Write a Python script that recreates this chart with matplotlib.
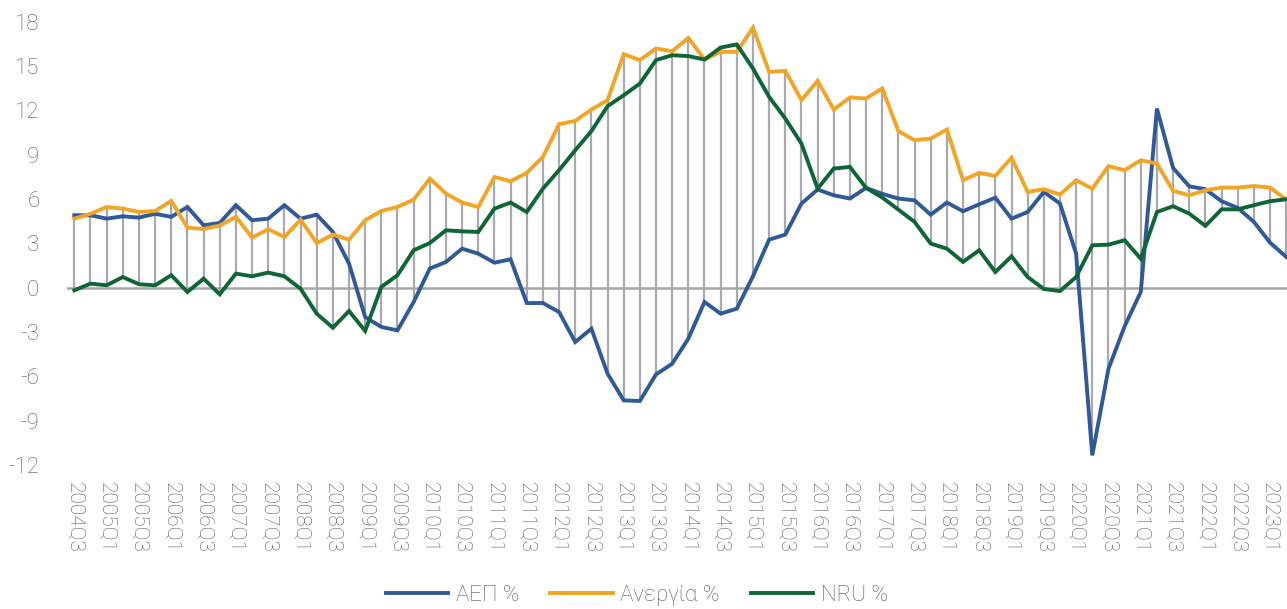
import numpy as np
import matplotlib
matplotlib.use('Agg')
import matplotlib.pyplot as plt

plt.rcParams['font.family'] = ['Roboto', 'DejaVu Sans']
plt.rcParams['axes.unicode_minus'] = False

# quarterly data 2004Q3 - 2023Q2
start_year, start_q = 2004, 3
gdp = [4.9, 4.9, 4.67, 4.83, 4.74, 5.0, 4.79, 5.46, 4.22, 4.38,
       5.58, 4.56, 4.67, 5.58, 4.67, 4.94, 3.77, 1.63, -1.99, -2.66,
       -2.89, -0.97, 1.29, 1.74, 2.64, 2.3, 1.69, 1.92, -1.04, -1.04,
       -1.65, -3.68, -2.78, -5.82, -7.63, -7.67, -5.87, -5.15, -3.45, -0.97,
       -1.76, -1.42, 0.77, 3.25, 3.59, 5.69, 6.64, 6.25, 6.03, 6.75,
       6.35, 6.03, 5.91, 4.94, 5.76, 5.17, 5.64, 6.09, 4.67, 5.12,
       6.48, 5.69, 2.3, -11.35, -5.49, -2.62, -0.29, 12.12, 8.1, 6.86,
       6.66, 5.85, 5.4, 4.45, 3.05, 2.08]
unemp = [4.67, 5.0, 5.46, 5.35, 5.12, 5.19, 5.87, 4.06, 3.97, 4.2,
         4.79, 3.39, 3.95, 3.43, 4.6, 3.02, 3.59, 3.25, 4.56, 5.19,
         5.46, 5.96, 7.38, 6.37, 5.76, 5.46, 7.49, 7.2, 7.77, 8.85,
         11.06, 11.29, 12.05, 12.69, 15.8, 15.4, 16.19, 16.0, 16.9, 15.44,
         15.96, 15.96, 17.6, 14.6, 14.67, 12.69, 14.0, 12.05, 12.87, 12.8,
         13.48, 10.59, 9.98, 10.09, 10.7, 7.27, 7.77, 7.56, 8.8, 6.48,
         6.66, 6.3, 7.27, 6.7, 8.22, 7.95, 8.62, 8.4, 6.55, 6.25,
         6.59, 6.77, 6.77, 6.88, 6.77, 5.96]
nru = [-0.18, 0.27, 0.16, 0.72, 0.23, 0.16, 0.84, -0.29, 0.61, -0.45,
       0.95, 0.77, 1.02, 0.77, -0.07, -1.76, -2.71, -1.58, -2.93, 0.05,
       0.84, 2.53, 3.02, 3.88, 3.81, 3.77, 5.35, 5.76, 5.12, 6.7,
       7.95, 9.3, 10.59, 12.28, 13.02, 13.81, 15.4, 15.73, 15.67, 15.44,
       16.25, 16.46, 14.83, 12.91, 11.44, 9.75, 6.7, 8.06, 8.17, 6.75,
       6.1, 5.28, 4.45, 2.98, 2.64, 1.74, 2.53, 1.06, 2.12, 0.72,
       -0.09, -0.23, 0.72, 2.87, 2.91, 3.21, 1.96, 5.12, 5.51, 5.01,
       4.18, 5.3, 5.3, 5.58, 5.85, 5.98]
series_names = ['ΑΕΠ %', 'Ανεργία %', 'NRU %']
colors = ['#30599A', '#F2A525', '#0E6535']

n = len(gdp)
quarters = []
y, q = start_year, start_q
for i in range(n):
    quarters.append(f'{y}Q{q}')
    q += 1
    if q > 4:
        q = 1
        y += 1

x = np.arange(n)
data = np.array([gdp, unemp, nru])

fig = plt.figure(figsize=(12.87, 6.09), dpi=100)
ax = fig.add_axes([0.0521, 0.2365, 0.9479, 0.7279])

# high-low lines
ax.vlines(x, data.min(axis=0), data.max(axis=0), color='#A9A9AE', lw=1.6, zorder=1)
ax.axhline(0, color='#A6A6A6', lw=1.8, zorder=1)

for vals, name, c in zip(data, series_names, colors):
    ax.plot(x, vals, color=c, lw=2.8, label=name, zorder=3, solid_joinstyle='miter')

ax.set_xlim(-0.45, n - 1 + 0.05)
ax.set_ylim(-12, 18)
ax.set_yticks(np.arange(-12, 19, 3))
ax.set_xticks(x[::2])
ax.set_xticklabels(quarters[::2], rotation=270, fontsize=15, color='#595959',
                   fontweight='light')
for lab in ax.get_yticklabels():
    lab.set_fontsize(16)
    lab.set_color('#595959')
    lab.set_fontweight('light')
ax.tick_params(axis='y', length=0, pad=20)
ax.tick_params(axis='x', length=0, pad=12)
for s in ax.spines.values():
    s.set_visible(False)

fig.legend(loc='lower center', bbox_to_anchor=(0.495, -0.028), ncol=3, frameon=False,
           prop={'size': 16, 'weight': 'light'}, handlelength=2.8, handletextpad=0.35,
           columnspacing=1.4, labelcolor='#595959')

fig.savefig('out.png', dpi=100)
